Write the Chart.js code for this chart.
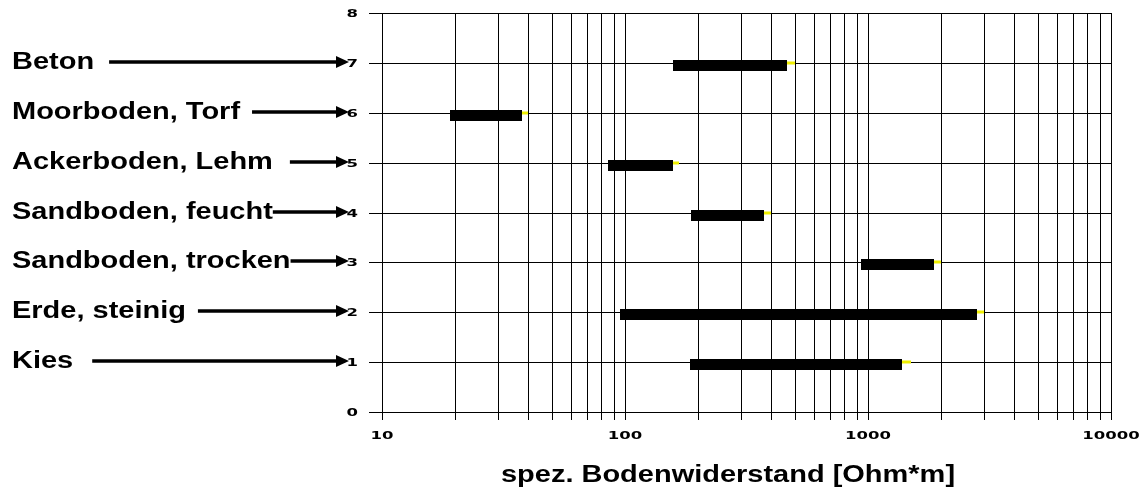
<!DOCTYPE html>
<html lang="de">
  <head>
    <meta charset="UTF-8" />
    <title>Spezifischer Bodenwiderstand</title>
    <style>
      body {
        margin: 0;
        background-color: #ffffff;
      }
      #chart {
        display: block;
      }
    </style>
  </head>
  <body>
    <canvas id="chart" width="1146" height="490"></canvas>

    <script src="https://cdn.jsdelivr.net/npm/chart.js"></script>
    <script>
      // Bodenarten, von unten (1) nach oben (7)
      var categories = [
        "Kies",
        "Erde, steinig",
        "Sandboden, trocken",
        "Sandboden, feucht",
        "Ackerboden, Lehm",
        "Moorboden, Torf",
        "Beton",
      ];
      var rowValues = [1, 2, 3, 4, 5, 6, 7];

      // Bereich in Ohm*m
      var rangeFrom = [185, 95, 935, 187, 85, 19, 158];
      var rangeTo = [1380, 2810, 1870, 373, 158, 37.7, 464];
      var endMarkTo = [1500, 3000, 2000, 400, 167, 40, 500];

      // Achsen
      var xGridValues = [
        10, 20, 30, 40, 50, 60, 70, 80, 90,
        100, 200, 300, 400, 500, 600, 700, 800, 900,
        1000, 2000, 3000, 4000, 5000, 6000, 7000, 8000, 9000,
        10000,
      ];
      var xTickValues = [10, 100, 1000, 10000];
      var xTickLabels = ["10", "100", "1000", "10000"];
      var yTickValues = [0, 1, 2, 3, 4, 5, 6, 7, 8];
      var yTickLabels = ["0", "1", "2", "3", "4", "5", "6", "7", "8"];
      var axisTitle = "spez. Bodenwiderstand [Ohm*m]";

      // Abstand Text -> Pfeil (Stil)
      var arrowGap = [19, 12, 0, 0, 17, 12, 15];

      var datasets = [];
      categories.forEach(function (name, i) {
        datasets.push({
          label: name,
          data: [
            { x: rangeFrom[i], y: rowValues[i] },
            { x: rangeTo[i], y: rowValues[i] },
          ],
          borderColor: "#000000",
          borderWidth: 11,
          borderCapStyle: "butt",
          pointRadius: 0,
          order: 1,
          isRange: true,
        });
        datasets.push({
          label: name + " (Ende)",
          data: [
            { x: rangeTo[i], y: rowValues[i] },
            { x: endMarkTo[i], y: rowValues[i] },
          ],
          borderColor: "#eeee00",
          borderWidth: 3,
          borderCapStyle: "butt",
          pointRadius: 0,
          order: 0,
        });
      });

      function drawArrow(ctx, x0, x1, y) {
        ctx.beginPath();
        ctx.lineWidth = 3.5;
        ctx.strokeStyle = "#000";
        ctx.moveTo(x0, y);
        ctx.lineTo(x1 - 11, y);
        ctx.stroke();
        ctx.beginPath();
        ctx.moveTo(x1, y);
        ctx.lineTo(x1 - 13, y - 6);
        ctx.lineTo(x1 - 13, y + 6);
        ctx.closePath();
        ctx.fill();
      }

      // black bars sit a little below the grid line in the original
      var shiftBars = {
        id: "shiftBars",
        beforeDatasetDraw: function (chart, args) {
          if (chart.data.datasets[args.index].isRange) {
            chart.ctx.save();
            chart.ctx.translate(0, 2.5);
          }
        },
        afterDatasetDraw: function (chart, args) {
          if (chart.data.datasets[args.index].isRange) {
            chart.ctx.restore();
          }
        },
      };

      var texts = {
        id: "texts",
        afterDraw: function (chart) {
          var ctx = chart.ctx;
          var xs = chart.scales.x;
          var ys = chart.scales.y;
          ctx.save();
          ctx.fillStyle = "#000";

          // tick labels (wide bold digits)
          ctx.font = "bold 11px 'DejaVu Sans', sans-serif";
          ctx.textBaseline = "middle";
          ctx.textAlign = "center";
          xTickValues.forEach(function (v, i) {
            ctx.save();
            ctx.translate(xs.getPixelForValue(v), 436);
            ctx.scale(1.5, 1);
            ctx.fillText(xTickLabels[i], 0, 0);
            ctx.restore();
          });
          ctx.textAlign = "right";
          yTickValues.forEach(function (v, i) {
            ctx.save();
            ctx.translate(358, ys.getPixelForValue(v) + 1);
            ctx.scale(1.5, 1);
            ctx.fillText(yTickLabels[i], 0, 0);
            ctx.restore();
          });

          // category labels with arrows
          ctx.font = "bold 23px 'Liberation Sans', Arial, sans-serif";
          ctx.textBaseline = "alphabetic";
          ctx.textAlign = "left";
          categories.forEach(function (name, i) {
            var y = ys.getPixelForValue(rowValues[i]);
            var w = ctx.measureText(name).width * 1.26;
            ctx.save();
            ctx.scale(1.26, 1);
            ctx.fillText(name, 12 / 1.26, y + 6);
            ctx.restore();
            drawArrow(ctx, 12 + w + arrowGap[i], 349, y - 1);
          });

          // axis title
          ctx.textAlign = "center";
          ctx.save();
          ctx.translate(728, 482);
          ctx.scale(1.26, 1);
          ctx.fillText(axisTitle, 0, 0);
          ctx.restore();

          ctx.restore();
        },
      };

      var ctx = document.getElementById("chart").getContext("2d");
      var chart = new Chart(ctx, {
        type: "line",
        data: { datasets: datasets },
        options: {
          responsive: false,
          animation: false,
          devicePixelRatio: 1,
          layout: {
            padding: { left: 369, right: 35, top: 13, bottom: 70 },
          },
          plugins: {
            legend: { display: false },
            tooltip: { enabled: false },
          },
          scales: {
            x: {
              type: "logarithmic",
              min: 10,
              max: 10000,
              alignToPixels: true,
              afterBuildTicks: function (scale) {
                scale.ticks = xGridValues.map(function (v) {
                  return { value: v };
                });
              },
              ticks: { display: false },
              grid: { color: "#000", lineWidth: 1, tickLength: 8 },
              border: { color: "#000", width: 1 },
            },
            y: {
              type: "linear",
              min: 0,
              max: 8,
              alignToPixels: true,
              ticks: { display: false, stepSize: 1 },
              grid: { color: "#000", lineWidth: 1, tickLength: 13 },
              border: { color: "#000", width: 1 },
            },
          },
        },
        plugins: [shiftBars, texts],
      });
    </script>
  </body>
</html>
